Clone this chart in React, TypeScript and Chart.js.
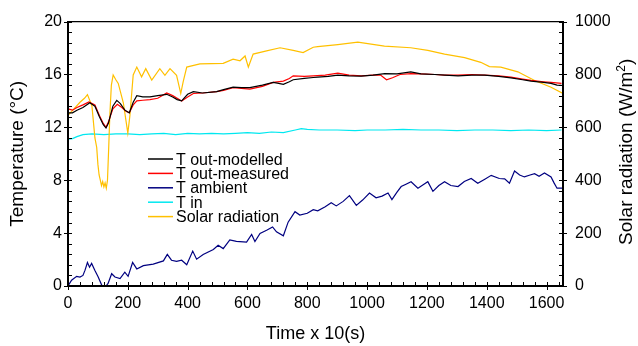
import React, { useEffect, useRef } from 'react';
import { Chart, registerables } from 'chart.js';

Chart.register(...registerables);

const FONT = '"Liberation Sans", Arial, Helvetica, sans-serif';

// ---- tick values ----
const xTickValues = [0, 200, 400, 600, 800, 1000, 1200, 1400, 1600];
const tempTickValues = [0, 4, 8, 12, 16, 20];
const solarTickValues = [0, 200, 400, 600, 800, 1000];

// ---- series labels ----
const seriesLabels = ['T out-modelled', 'T out-measured', 'T ambient', 'T in', 'Solar radiation'];
const seriesColors = ['#000000', '#ff0000', '#000080', '#00e8f0', '#ffc000'];

// ---- data: [time x10 s, value] ----
const tOutModelled: [number, number][] = [
  [0, 13.1], [15, 13.1], [30, 13.3], [50, 13.5], [73, 13.87], [90, 13.6], [105, 12.8], [118, 12.2],
  [127, 11.95], [135, 12.3], [150, 13.6], [163, 14.04], [175, 13.8], [190, 13.3], [205, 13.1],
  [218, 13.9], [230, 14.4], [250, 14.3], [274, 14.3], [300, 14.4], [330, 14.5], [350, 14.3],
  [365, 14.1], [380, 14.0], [400, 14.5], [419, 14.7], [450, 14.6], [497, 14.7], [520, 14.85],
  [552, 15.04], [580, 15.0], [608, 15.0], [650, 15.2], [686, 15.4], [700, 15.35], [720, 15.26],
  [740, 15.45], [753, 15.6], [790, 15.7], [820, 15.77], [835, 15.8], [870, 15.85], [902, 15.95],
  [940, 15.9], [980, 15.87], [1020, 15.95], [1059, 16.07], [1100, 16.05], [1146, 16.2], [1180, 16.05],
  [1227, 16.0], [1260, 15.95], [1304, 15.9], [1350, 15.95], [1393, 15.95], [1440, 15.85], [1481, 15.75],
  [1520, 15.6], [1548, 15.5], [1590, 15.4], [1615, 15.33], [1635, 15.2], [1650, 15.17],
];

const tOutMeasured: [number, number][] = [
  [0, 13.4], [15, 13.3], [30, 13.5], [50, 13.7], [70, 13.93], [90, 13.7], [105, 12.9], [118, 12.3],
  [127, 12.0], [135, 12.4], [150, 13.4], [165, 13.75], [180, 13.5], [195, 13.2], [205, 13.1],
  [218, 13.7], [230, 14.0], [250, 14.05], [274, 14.1], [300, 14.2], [330, 14.6], [350, 14.4],
  [365, 14.2], [380, 14.0], [400, 14.3], [419, 14.56], [450, 14.6], [497, 14.7], [520, 14.8],
  [552, 15.0], [580, 14.95], [608, 14.9], [650, 15.1], [686, 15.4], [720, 15.5], [740, 15.7],
  [753, 15.9], [790, 15.85], [820, 15.9], [860, 15.95], [902, 16.1], [940, 15.95], [980, 15.9],
  [1020, 15.95], [1045, 15.95], [1065, 15.6], [1085, 15.75], [1110, 16.0], [1146, 16.07], [1180, 16.05],
  [1227, 16.0], [1260, 15.95], [1304, 15.95], [1350, 16.0], [1393, 15.95], [1440, 15.9], [1481, 15.8],
  [1520, 15.65], [1548, 15.55], [1590, 15.45], [1615, 15.4], [1650, 15.33],
];

const tAmbient: [number, number][] = [
  [0, 0], [12, 0.44], [29, 0.73], [40, 0.68], [50, 0.8], [57, 1.2], [65, 1.78], [72, 1.42], [79, 1.71],
  [90, 1.17], [101, 0.68], [113, 0.05], [127, 0], [134, 0.2], [146, 0.93], [157, 0.68], [174, 0.56],
  [190, 1.05], [201, 0.73], [216, 1.78], [230, 1.29], [252, 1.54], [285, 1.66], [319, 1.9], [332, 2.39],
  [346, 1.95], [363, 1.86], [380, 1.95], [397, 1.61], [417, 2.64], [430, 2.03], [452, 2.39], [486, 2.76],
  [502, 3.08], [519, 2.83], [541, 3.49], [563, 3.37], [597, 3.32], [614, 3.9], [625, 3.37], [642, 3.98],
  [664, 4.22], [684, 4.47], [697, 4.1], [720, 3.8], [736, 4.83], [759, 5.62], [775, 5.37], [800, 5.5],
  [820, 5.77], [835, 5.69], [860, 6.0], [880, 6.3], [897, 6.06], [920, 6.4], [941, 6.84], [964, 6.1],
  [985, 6.5], [1008, 7.03], [1030, 6.67], [1050, 6.8], [1070, 7.03], [1083, 6.54], [1100, 7.1],
  [1114, 7.52], [1130, 7.7], [1147, 7.89], [1170, 7.4], [1190, 7.7], [1203, 7.89], [1220, 7.16],
  [1240, 7.6], [1259, 7.89], [1280, 7.6], [1304, 7.52], [1325, 7.9], [1348, 8.13], [1370, 7.77],
  [1395, 8.1], [1415, 8.37], [1442, 8.13], [1460, 8.1], [1476, 7.77], [1493, 8.7], [1510, 8.4],
  [1526, 8.25], [1545, 8.4], [1560, 8.5], [1575, 8.3], [1593, 8.55], [1615, 8.25], [1625, 7.8],
  [1635, 7.4], [1655, 7.4],
];

const tIn: [number, number][] = [
  [0, 11.1], [15, 11.15], [30, 11.3], [50, 11.45], [80, 11.5], [120, 11.45], [160, 11.5], [200, 11.5],
  [240, 11.45], [280, 11.5], [320, 11.55], [360, 11.45], [400, 11.55], [440, 11.5], [480, 11.55],
  [520, 11.5], [560, 11.55], [600, 11.6], [640, 11.55], [680, 11.65], [720, 11.6], [760, 11.8],
  [780, 11.9], [800, 11.85], [840, 11.8], [900, 11.8], [960, 11.75], [1000, 11.8], [1060, 11.8],
  [1120, 11.85], [1180, 11.8], [1240, 11.8], [1300, 11.75], [1360, 11.8], [1420, 11.8], [1480, 11.75],
  [1540, 11.8], [1600, 11.75], [1650, 11.8],
];

const solarRadiation: [number, number][] = [
  [0, 645], [20, 670], [40, 695], [55, 710], [65, 724], [80, 681], [90, 560], [96, 524], [100, 460],
  [104, 420], [108, 400], [112, 380], [116, 395], [120, 375], [124, 390], [128, 370], [132, 400],
  [136, 520], [140, 650], [145, 760], [151, 798], [160, 780], [168, 766], [185, 693], [200, 578],
  [207, 645], [218, 798], [230, 828], [246, 791], [260, 822], [280, 779], [307, 822], [324, 797],
  [341, 822], [363, 797], [377, 728], [385, 772], [397, 828], [441, 840], [519, 842], [552, 858],
  [575, 852], [592, 870], [603, 828], [619, 877], [664, 889], [709, 901], [753, 891], [786, 883],
  [820, 903], [835, 905], [902, 913], [969, 922], [1058, 907], [1146, 901], [1203, 891], [1259, 877],
  [1326, 864], [1380, 846], [1409, 830], [1447, 828], [1504, 810], [1560, 777], [1615, 752], [1655, 728],
];

const toXY = (arr: [number, number][]) => arr.map(([x, y]) => ({ x, y }));

const framePlugin = {
  id: 'framePlugin',
  afterDatasetsDraw(chart: any) {
    const { ctx, chartArea: a, scales } = chart;
    const xs = scales.x;
    const yl = scales.y;
    ctx.save();
    ctx.strokeStyle = '#000';
    // frame
    ctx.lineWidth = 1.2;
    ctx.beginPath();
    ctx.moveTo(a.left, a.top);
    ctx.lineTo(a.right, a.top);
    ctx.stroke();
    ctx.lineWidth = 2;
    ctx.beginPath();
    ctx.moveTo(a.left, a.top - 0.5);
    ctx.lineTo(a.left, a.bottom);
    ctx.lineTo(a.right, a.bottom);
    ctx.lineTo(a.right, a.top - 0.5);
    ctx.stroke();
    // x ticks
    ctx.lineWidth = 1;
    ctx.beginPath();
    for (let v = 0; v <= 1655; v += 40) {
      const px = Math.round(xs.getPixelForValue(v)) + 0.5;
      const major = v % 200 === 0;
      ctx.moveTo(px, a.bottom - 4);
      ctx.lineTo(px, major ? a.bottom + 4 : a.bottom);
    }
    // y ticks (left & right share positions)
    for (let i = 0; i <= 25; i++) {
      const v = i * 0.8;
      const py = Math.round(yl.getPixelForValue(v)) + 0.5;
      const major = i % 5 === 0;
      ctx.moveTo(a.left + 4, py);
      ctx.lineTo(major ? a.left - 4 : a.left, py);
      ctx.moveTo(a.right - 4, py);
      ctx.lineTo(major ? a.right + 4 : a.right, py);
    }
    ctx.stroke();

    // titles
    ctx.fillStyle = '#000';
    const midY = (a.top + a.bottom) / 2;
    ctx.font = `19px ${FONT}`;
    ctx.textAlign = 'center';
    ctx.textBaseline = 'alphabetic';
    ctx.save();
    ctx.translate(23, midY);
    ctx.rotate(-Math.PI / 2);
    ctx.fillText('Temperature (°C)', 0, 0);
    ctx.restore();

    ctx.font = `18px ${FONT}`;
    ctx.fillText('Time x 10(s)', (a.left + a.right) / 2, 339);

    // right title with superscript
    ctx.save();
    ctx.translate(632, midY - 2);
    ctx.rotate(-Math.PI / 2);
    ctx.textAlign = 'left';
    const main = 'Solar radiation (W/m';
    const sup = '2';
    const end = ')';
    ctx.font = `19px ${FONT}`;
    const w1 = ctx.measureText(main).width;
    const w3 = ctx.measureText(end).width;
    ctx.font = `12px ${FONT}`;
    const w2 = ctx.measureText(sup).width;
    const total = w1 + w2 + w3;
    let cx = -total / 2;
    ctx.font = `19px ${FONT}`;
    ctx.fillText(main, cx, 0);
    cx += w1;
    ctx.font = `12px ${FONT}`;
    ctx.fillText(sup, cx, -7.5);
    cx += w2;
    ctx.font = `19px ${FONT}`;
    ctx.fillText(end, cx, 0);
    ctx.restore();

    // legend
    const rows = [159, 173.4, 187.8, 202.2, 216.6];
    ctx.font = `16px ${FONT}`;
    ctx.textAlign = 'left';
    ctx.textBaseline = 'alphabetic';
    seriesLabels.forEach((label, i) => {
      const y = rows[i];
      ctx.strokeStyle = seriesColors[i];
      ctx.lineWidth = 1.5;
      ctx.beginPath();
      ctx.moveTo(148, y);
      ctx.lineTo(173, y);
      ctx.stroke();
      ctx.fillStyle = '#000';
      ctx.fillText(label, 176, y + 5.5);
    });
    ctx.restore();
  },
};

export default function App() {
  const ref = useRef<HTMLCanvasElement | null>(null);

  useEffect(() => {
    document.body.style.margin = '0';
    const canvas = ref.current;
    if (!canvas) return;
    const mk = (i: number, data: [number, number][], axis: string) => ({
      label: seriesLabels[i],
      data: toXY(data),
      borderColor: seriesColors[i],
      backgroundColor: seriesColors[i],
      borderWidth: 1.2,
      pointRadius: 0,
      tension: 0,
      fill: false,
      yAxisID: axis,
    });
    const plain = (v: any) => String(v);
    const chart = new Chart(canvas, {
      type: 'line',
      data: {
        datasets: [
          mk(0, tOutModelled, 'y'),
          mk(1, tOutMeasured, 'y'),
          mk(4, solarRadiation, 'y2'),
          mk(3, tIn, 'y'),
          mk(2, tAmbient, 'y'),
        ] as any,
      },
      options: {
        animation: false,
        responsive: false,
        maintainAspectRatio: false,
        layout: { padding: { top: 13, left: 0, right: 0, bottom: 0 } },
        plugins: { legend: { display: false }, tooltip: { enabled: false }, title: { display: false } },
        scales: {
          x: {
            type: 'linear',
            min: 0,
            max: 1655,
            grid: { display: false, drawTicks: false },
            border: { display: false },
            ticks: { color: '#000', font: { family: FONT, size: 16 }, padding: 8, maxRotation: 0, autoSkip: false, callback: plain },
            afterBuildTicks: (s: any) => { s.ticks = xTickValues.map((v) => ({ value: v })); },
            afterFit: (s: any) => { s.height = 60; },
          },
          y: {
            type: 'linear',
            position: 'left',
            min: 0,
            max: 20,
            grid: { display: false, drawTicks: false },
            border: { display: false },
            ticks: { color: '#000', font: { family: FONT, size: 16 }, padding: 6, autoSkip: false, callback: plain },
            afterBuildTicks: (s: any) => { s.ticks = tempTickValues.map((v) => ({ value: v })); },
            afterFit: (s: any) => { s.width = 68; },
          },
          y2: {
            type: 'linear',
            position: 'right',
            min: 0,
            max: 1000,
            grid: { display: false, drawTicks: false },
            border: { display: false },
            ticks: { color: '#000', font: { family: FONT, size: 16 }, padding: 12, autoSkip: false, callback: plain },
            afterBuildTicks: (s: any) => { s.ticks = solarTickValues.map((v) => ({ value: v })); },
            afterFit: (s: any) => { s.width = 75; },
          },
        },
      } as any,
      plugins: [framePlugin],
    });
    return () => chart.destroy();
  }, []);

  return (
    <div style={{ width: 638, height: 346, background: '#fff' }}>
      <canvas ref={ref} width={638} height={346} style={{ display: 'block' }} />
    </div>
  );
}
